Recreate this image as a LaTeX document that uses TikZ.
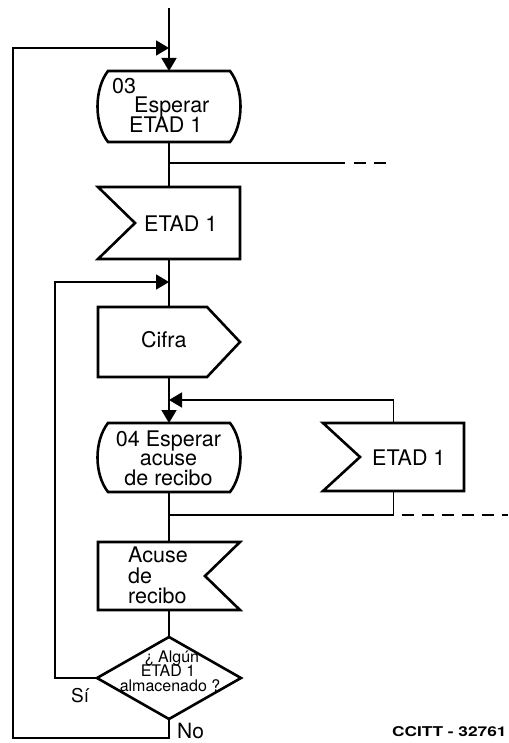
\documentclass[tikz,border=0pt]{standalone}
\usepackage{fontspec}
\setmainfont{TeX Gyre Heros}
\usetikzlibrary{arrows.meta,shapes.geometric,calc}
\tikzset{
  conn/.style={line width=1.8pt},
  arr/.style={conn,-{Triangle[length=13pt,width=15pt]}},
  boxl/.style={line width=2.6pt,line join=miter},
  dashl/.style={line width=1.8pt,dash pattern=on 12pt off 8pt},
  frame/.style={rectangle,inner sep=0pt,outer sep=0pt,draw=none},
  tl/.style={inner sep=0pt,anchor=base west,font=\fontsize{21.5}{24}\selectfont},
  tc/.style={tl,anchor=base},
  td/.style={inner sep=0pt,anchor=base,font=\fontsize{16}{18}\selectfont},
}
\newcommand\stateoutline[1]{%
  \draw[boxl] ([xshift=11pt]#1.north west) -- ([xshift=-11pt]#1.north east)
    .. controls +(14pt,-18pt) and +(14pt,18pt) .. ([xshift=-11pt]#1.south east)
    -- ([xshift=11pt]#1.south west)
    .. controls +(-14pt,18pt) and +(-14pt,-18pt) .. cycle;}
\begin{document}
\begin{tikzpicture}[x=1pt,y=-1pt]
\useasboundingbox (0,0) rectangle (508,743);
% frames
\node[frame,minimum width=144pt,minimum height=71pt] (s3) at (169,106.5) {};
\node[frame,minimum width=142pt,minimum height=72pt] (in1) at (169,223) {};
\node[frame,minimum width=142pt,minimum height=70pt] (cif) at (169,342) {};
\node[frame,minimum width=144pt,minimum height=69pt] (s4) at (169,457.5) {};
\node[frame,minimum width=141pt,minimum height=68pt] (in2) at (393.5,457) {};
\node[frame,minimum width=142pt,minimum height=68pt] (ack) at (169,576) {};
\node[draw,diamond,boxl,minimum width=144pt,minimum height=82pt,inner sep=0pt,outer sep=0pt] (dia) at (169,678) {};
% outlines
\stateoutline{s3}
\stateoutline{s4}
\draw[boxl] (in1.north west) -- (in1.north east) -- (in1.south east) -- (in1.south west) -- ([xshift=37pt]in1.west) -- cycle;
\draw[boxl] (in2.north west) -- (in2.north east) -- (in2.south east) -- (in2.south west) -- ([xshift=37pt]in2.west) -- cycle;
\draw[boxl] (cif.north west) -- ([xshift=-33pt]cif.north east) -- (cif.east) -- ([xshift=-33pt]cif.south east) -- (cif.south west) -- cycle;
\draw[boxl] (ack.north west) -- (ack.north east) -- ([xshift=-35pt]ack.east) -- (ack.south east) -- (ack.south west) -- cycle;
% texts
\node[tl] (s3a) at (112,94) {03};
\node[tl] (s3b) at (134,113) {Esperar};
\node[tl] (s3c) at (129,133) {ETAD 1};
\node[tl] (in1t) at (144,231) {ETAD 1};
\node[tl] (cift) at (141,347) {Cifra};
\node[inner sep=0pt,anchor=north,align=center,font=\fontsize{21.5}{19.5}\selectfont] (s4t) at (168.5,430.6) {04 Esperar\\acuse\\de recibo};
\node[tl] (in2t) at (372,465) {ETAD 1};
\node[tl] (acka) at (128,562) {Acuse};
\node[tl] (ackb) at (128,583) {de};
\node[tl] (ackc) at (128,603) {recibo};
\node[td] (diaa) at (172,662) {¿ Algún};
\node[td] (diab) at (168,676.5) {ETAD 1};
\node[td] (diac) at (170,691) {almacenado ?};
\node[inner sep=0pt,anchor=base west,font=\fontsize{19}{20}\selectfont] (si) at (71,702) {Sí};
\node[inner sep=0pt,anchor=base west,font=\fontsize{21}{24}\selectfont] (no) at (177,738) {No};
\node[inner sep=0pt,anchor=base west,font=\bfseries\fontsize{13.5}{15}\selectfont] (ref) at (392,736) {\scalebox{1.28}[1]{CCITT - 32761}};
% coordinates
\coordinate (top) at (169,8);
\coordinate (j1) at (169,48);
\coordinate (lb) at (13,738);
\coordinate (b1) at (169,163);
\coordinate (b1e) at (345,163);
\coordinate (b1d) at (393,163);
\coordinate (li) at (55,282);
\coordinate (j2) at (169,282);
\coordinate (j3) at (169,400);
\coordinate (j4) at (169,515);
\coordinate (c4) at (in2.south |- j4);
\coordinate (d4) at (508,515);
% connectors
\draw[arr] (top) -- (s3.north);
\draw[arr] (dia.south) |- (lb) |- (j1);
\draw[conn] (s3.south) -- (in1.north);
\draw[conn] (b1) -- (b1e);
\draw[dashl] ([xshift=9pt]b1e) -- (b1d);
\draw[conn] (in1.south) -- (cif.north);
\draw[arr] (dia.west) -| (li) -- (j2);
\draw[arr] (cif.south) -- (s4.north);
\draw[arr] (in2.north) |- (j3);
\draw[conn] (s4.south) -- (ack.north);
\draw[conn] (in2.south) |- (j4);
\draw[dashl] ([xshift=8pt]c4) -- (d4);
\draw[conn] (ack.south) -- (dia.north);
\end{tikzpicture}
\end{document}
